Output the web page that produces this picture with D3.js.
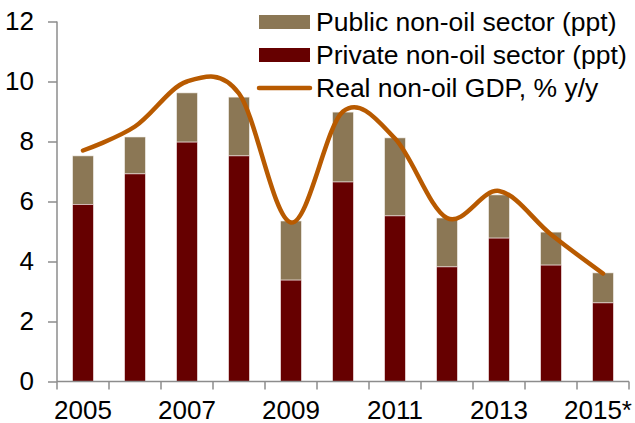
<!DOCTYPE html>
<html><head><meta charset="utf-8">
<script src="https://cdn.jsdelivr.net/npm/d3@7"></script>
<style>body{margin:0;background:#fff}svg{display:block;font-family:Arial,"Liberation Sans",sans-serif}</style>
</head><body><svg id="c" width="635" height="423"></svg>
<script>
const years = ["2005","2006","2007","2008","2009","2010","2011","2012","2013","2014","2015*"];
const privateVals = [5.9, 6.92, 7.98, 7.52, 3.38, 6.65, 5.52, 3.82, 4.78, 3.88, 2.62];
const totalVals   = [7.52, 8.15, 9.62, 9.48, 5.35, 8.98, 8.12, 5.45, 6.22, 4.98, 3.62];
const gdpVals     = [7.7, 8.5, 10.0, 9.6, 5.3, 9.0, 8.1, 5.45, 6.35, 4.9, 3.6];
const yTicks = [0, 2, 4, 6, 8, 10, 12];
const xLabels = ["2005","2007","2009","2011","2013","2015*"];
const legendLabels = ["Public non-oil sector (ppt)", "Private non-oil sector (ppt)", "Real non-oil GDP, % y/y"];

const cPublic = "#8b7755", cPrivate = "#660000", cLine = "#b85a00", cAxis = "#8c8c8c";
const svg = d3.select("#c");
const x = d3.scaleBand().domain(years).range([57, 629]).paddingInner(0.6).paddingOuter(0.3);
const y = d3.scaleLinear().domain([0, 12]).range([381.5, 21.5]);

// bars
const g = svg.append("g");
years.forEach((yr, i) => {
  g.append("rect").attr("x", x(yr)).attr("width", x.bandwidth())
    .attr("y", y(totalVals[i])).attr("height", y(privateVals[i]) - y(totalVals[i]))
    .attr("fill", cPublic).attr("stroke", "#f2eee8").attr("stroke-width", 0.6);
  g.append("rect").attr("x", x(yr)).attr("width", x.bandwidth())
    .attr("y", y(privateVals[i])).attr("height", y(0) - y(privateVals[i]))
    .attr("fill", cPrivate).attr("stroke", "#f2e6e6").attr("stroke-width", 0.6);
});

// axes
const yAxis = d3.axisLeft(y).tickValues(yTicks).tickSize(9).tickPadding(14).tickFormat(d3.format("d"));
const ya = svg.append("g").attr("transform", "translate(57,0)").call(yAxis);
ya.select(".domain").attr("stroke", cAxis).attr("stroke-width", 1.5).attr("d", `M0,${y(12)}V${y(0)}`);
ya.selectAll(".tick line").attr("stroke", cAxis).attr("stroke-width", 1.5);
ya.selectAll("text").attr("font-size", 26).attr("fill", "#000").attr("font-family", "Arial, Liberation Sans, sans-serif");

const xa = svg.append("g").attr("transform", `translate(0,${y(0)})`);
xa.append("line").attr("x1", 57).attr("x2", 629).attr("stroke", cAxis).attr("stroke-width", 1.5);
const step = x.step();
const tickPos = d3.range(years.length + 1).map(i => x(years[0]) - x.paddingOuter() * step + i * step);
xa.selectAll(".xt").data(tickPos).join("line").attr("class", "xt")
  .attr("x1", d => d).attr("x2", d => d).attr("y1", 0).attr("y2", 8)
  .attr("stroke", cAxis).attr("stroke-width", 1.5);
xa.selectAll(".xl").data(xLabels).join("text").attr("class", "xl")
  .attr("x", d => x(d) + x.bandwidth() / 2).attr("y", 37)
  .attr("text-anchor", "middle").attr("font-size", 26).attr("fill", "#000").text(d => d)
  .each(function(d) {
    const w = this.getComputedTextLength();
    const cx = x(d) + x.bandwidth() / 2;
    if (cx + w / 2 > 632) d3.select(this).attr("x", 632 - w / 2);
  });

// line
const line = d3.line().x((d, i) => x(years[i]) + x.bandwidth() / 2).y(d => y(d)).curve(d3.curveCatmullRom.alpha(0));
svg.append("path").datum(gdpVals).attr("d", line).attr("fill", "none")
  .attr("stroke", cLine).attr("stroke-width", 4.5).attr("stroke-linecap", "round");

// legend
const lg = svg.append("g");
const rowY = [22, 55, 88];
lg.append("rect").attr("x", 259).attr("y", rowY[0] - 7).attr("width", 51).attr("height", 14).attr("fill", cPublic);
lg.append("rect").attr("x", 259).attr("y", rowY[1] - 7).attr("width", 51).attr("height", 14).attr("fill", cPrivate);
lg.append("line").attr("x1", 259).attr("x2", 310).attr("y1", rowY[2]).attr("y2", rowY[2])
  .attr("stroke", cLine).attr("stroke-width", 4.5).attr("stroke-linecap", "round");
lg.selectAll(".lt").data(legendLabels).join("text").attr("class", "lt")
  .attr("x", 316).attr("y", (d, i) => rowY[i] + 8).attr("dy", "0.05em")
  .attr("font-size", 26.5).attr("fill", "#000").text(d => d);
</script></body></html>
